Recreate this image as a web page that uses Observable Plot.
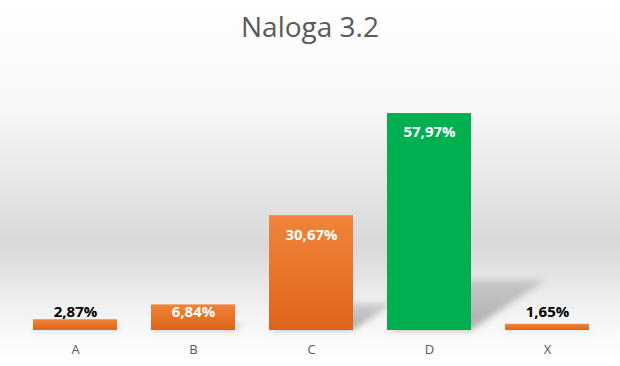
<!DOCTYPE html>
<html>
<head>
<meta charset="utf-8">
<script src="https://cdn.jsdelivr.net/npm/d3@7"></script>
<script src="https://cdn.jsdelivr.net/npm/@observablehq/plot@0.6"></script>
<style>
  html, body { margin: 0; padding: 0; }
  #wrap {
    position: relative; width: 620px; height: 366px; overflow: hidden;
    background: linear-gradient(to bottom, #ffffff 0%, #f7f7f7 30%, #d8d8d8 67%, #eeeeee 82%, #fafafa 92%, #ffffff 100%);
    font-family: "Open Sans", sans-serif;
  }
  #title {
    position: absolute; left: 0; top: 0; width: 620px; height: 58px;
    text-align: center; font-size: 28px; color: #595959; line-height: 1;
    padding-top: 12px; box-sizing: border-box;
  }
  #chart { position: absolute; left: 0; top: 58px; }
</style>
</head>
<body>
<div id="wrap">
  <div id="title">Naloga 3.2</div>
  <div id="chart"></div>
</div>
<script>
const categories = ["A", "B", "C", "D", "X"];
const values = [2.87, 6.84, 30.67, 57.97, 1.65];
const labels = ["2,87%", "6,84%", "30,67%", "57,97%", "1,65%"];
const highlight = "D";

const data = categories.map((c, i) => ({cat: c, value: values[i], label: labels[i]}));

const defs = () => {
  const d = d3.create("svg:defs");
  const g = d.append("linearGradient").attr("id", "og").attr("x1", 0).attr("y1", 0).attr("x2", 0).attr("y2", 1);
  g.append("stop").attr("offset", "0%").attr("stop-color", "#F0843A");
  g.append("stop").attr("offset", "100%").attr("stop-color", "#DD6416");
  const s = d.append("linearGradient").attr("id", "sg").attr("x1", 0).attr("y1", 0).attr("x2", 0).attr("y2", 1);
  s.append("stop").attr("offset", "0%").attr("stop-color", "#000").attr("stop-opacity", 0.14);
  s.append("stop").attr("offset", "100%").attr("stop-color", "#000").attr("stop-opacity", 0.30);
  const f = d.append("filter").attr("id", "blur").attr("x", "-20%").attr("y", "-20%").attr("width", "140%").attr("height", "140%");
  f.append("feGaussianBlur").attr("stdDeviation", 3);
  return d.node();
};

const shadowRender = (index, scales, vals, dims, ctx, next) => {
  const g = next(index, scales, vals, dims, ctx);
  const y0 = scales.y(0), s = 0.23, m = 1.5;
  g.setAttribute("filter", "url(#blur)");
  g.querySelectorAll("rect").forEach(r => {
    r.setAttribute("transform", `matrix(1,0,${-m * s},${s},${m * s * y0},${y0 * (1 - s)})`);
  });
  return g;
};

const labelRender = (index, scales, vals, dims, ctx, next) => {
  const y0 = scales.y(0);
  const y = Float64Array.from(vals.y, v => Math.min(v + 19, y0 - 18));
  return next(index, scales, {...vals, y}, dims, ctx);
};

const chart = Plot.plot({
  width: 620,
  height: 308,
  marginLeft: 15,
  marginRight: 13,
  marginTop: 10,
  marginBottom: 36,
  style: {background: "transparent", fontFamily: "Open Sans, sans-serif"},
  x: {domain: categories, paddingInner: 0.29, paddingOuter: 0.145, label: null, tickSize: 0, tickPadding: 14},
  y: {domain: [0, 70], axis: null},
  color: {type: "identity"},
  marks: [
    defs,
    Plot.barY(data, {x: "cat", y: "value", fill: "url(#sg)", render: shadowRender}),
    Plot.barY(data, {x: "cat", y: "value", fill: d => d.cat === highlight ? "#00B050" : "url(#og)"}),
    Plot.text(data, {
      x: "cat", y: "value", text: "label",
      fill: d => d.value > 4 ? "#ffffff" : "#000000",
      fontSize: 15, fontWeight: "bold",
      render: labelRender
    }),
    Plot.axisX({tickSize: 0, tickPadding: 14, fontSize: 13, color: "#595959", label: null})
  ]
});
document.getElementById("chart").appendChild(chart);
</script>
</body>
</html>
